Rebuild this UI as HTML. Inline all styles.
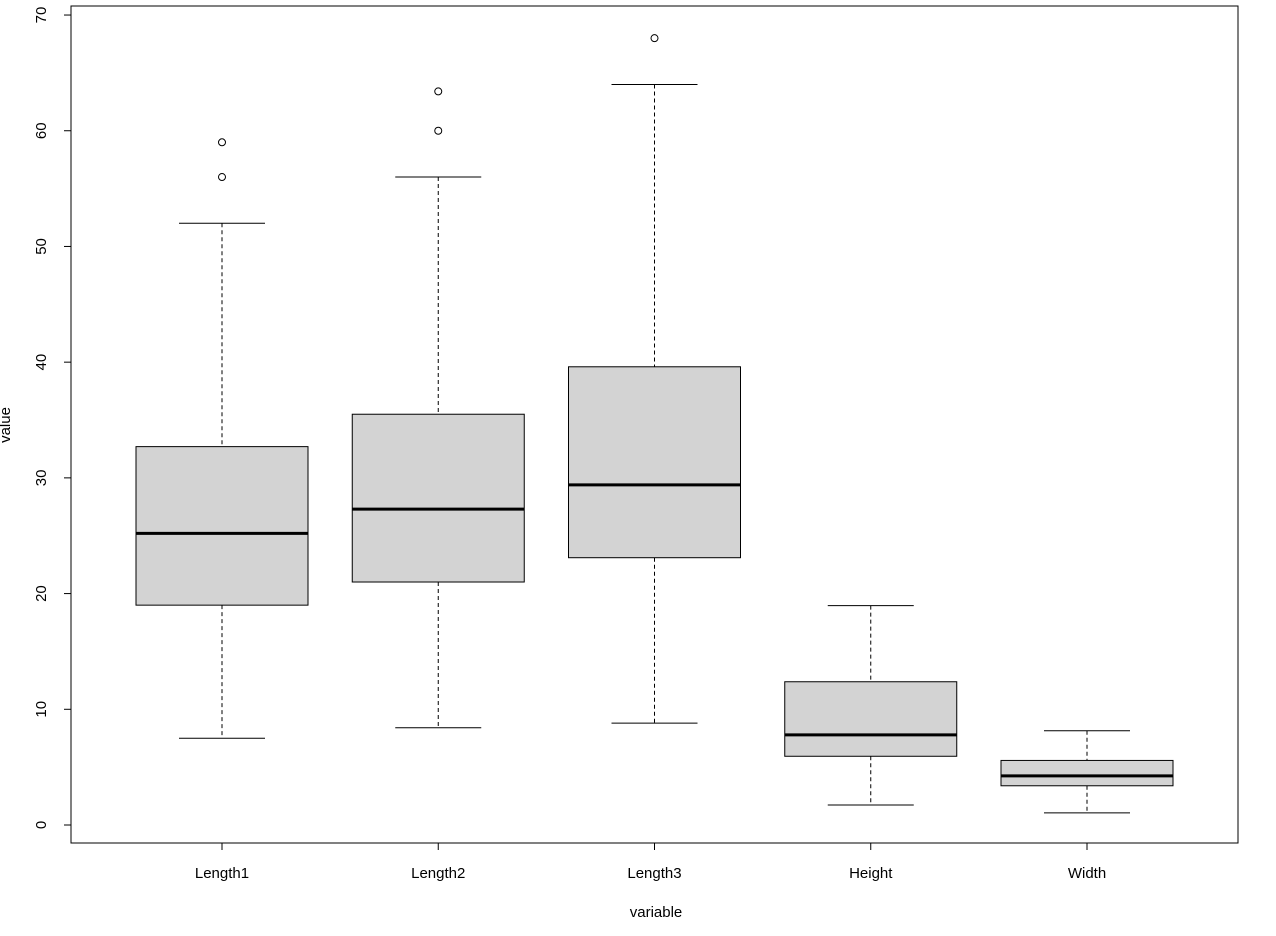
<!DOCTYPE html>
<html><head><meta charset="utf-8"><style>
body{margin:0;background:#fff;}
svg{display:block;font-family:"Liberation Sans",Arial,sans-serif;}
</style></head><body>
<svg id="chart" width="1276" height="936">
<rect x="71" y="6" width="1167" height="837" fill="none" stroke="#000" stroke-width="1"/>
<g id="boxes"></g><g id="axes"></g>
<text x="656" y="917" font-size="15" text-anchor="middle">variable</text>
<text x="10" y="425" font-size="15" text-anchor="middle" transform="rotate(-90 10 425)">value</text>
</svg>
<script>
const categories=["Length1","Length2","Length3","Height","Width"];
const lowWhisker=[7.5,8.4,8.8,1.73,1.05];
const q1=[19.0,21.0,23.1,5.94,3.39];
const medians=[25.2,27.3,29.4,7.79,4.25];
const q3=[32.7,35.5,39.6,12.38,5.58];
const highWhisker=[52,56,64,18.96,8.14];
const outliers=[[56,59],[60,63.4],[68],[],[]];
const yTicks=[0,10,20,30,40,50,60,70];
const NS="http://www.w3.org/2000/svg";
const y=v=>825-v*11.571;
const x=i=>222+i*216.25;
const half=86, cap=43;
const gB=document.getElementById('boxes'), gA=document.getElementById('axes');
function mk(tag,attrs,parent){const e=document.createElementNS(NS,tag);for(const k in attrs)e.setAttribute(k,attrs[k]);parent.appendChild(e);return e;}
categories.forEach((c,i)=>{
 const cx=x(i);
 const g=mk('g',{},gB);
 
 
 mk('line',{x1:cx,x2:cx,y1:y(highWhisker[i]),y2:y(q3[i]),stroke:'#000','stroke-dasharray':'4,3'},g);
 mk('line',{x1:cx,x2:cx,y1:y(q1[i]),y2:y(lowWhisker[i]),stroke:'#000','stroke-dasharray':'4,3'},g);
 mk('line',{x1:cx-cap,x2:cx+cap,y1:y(highWhisker[i]),y2:y(highWhisker[i]),stroke:'#000'},g);
 mk('line',{x1:cx-cap,x2:cx+cap,y1:y(lowWhisker[i]),y2:y(lowWhisker[i]),stroke:'#000'},g);
 mk('rect',{x:cx-half,y:y(q3[i]),width:2*half,height:y(q1[i])-y(q3[i]),fill:'#d3d3d3',stroke:'#000'},g);
 mk('line',{x1:cx-half,x2:cx+half,y1:y(medians[i]),y2:y(medians[i]),stroke:'#000','stroke-width':3},g);
 outliers[i].forEach(o=>{const p=mk('circle',{cx:cx,cy:y(o),r:3.5,fill:'none',stroke:'#000'},g);
  
  });
 mk('line',{x1:cx,x2:cx,y1:843,y2:850,stroke:'#000'},gA);
 const t=mk('text',{x:cx,y:878,'font-size':15,'text-anchor':'middle'},gA);t.textContent=c;
 
 
});
mk('line',{x1:71,x2:71,y1:y(0),y2:y(70),stroke:'#000'},gA);
yTicks.forEach(v=>{
 mk('line',{x1:64,x2:71,y1:y(v),y2:y(v),stroke:'#000'},gA);
 const t=mk('text',{x:46,y:y(v),'font-size':15,'text-anchor':'middle',transform:`rotate(-90 46 ${y(v)})`},gA);t.textContent=v;
 
 
});
</script>
</body></html>
